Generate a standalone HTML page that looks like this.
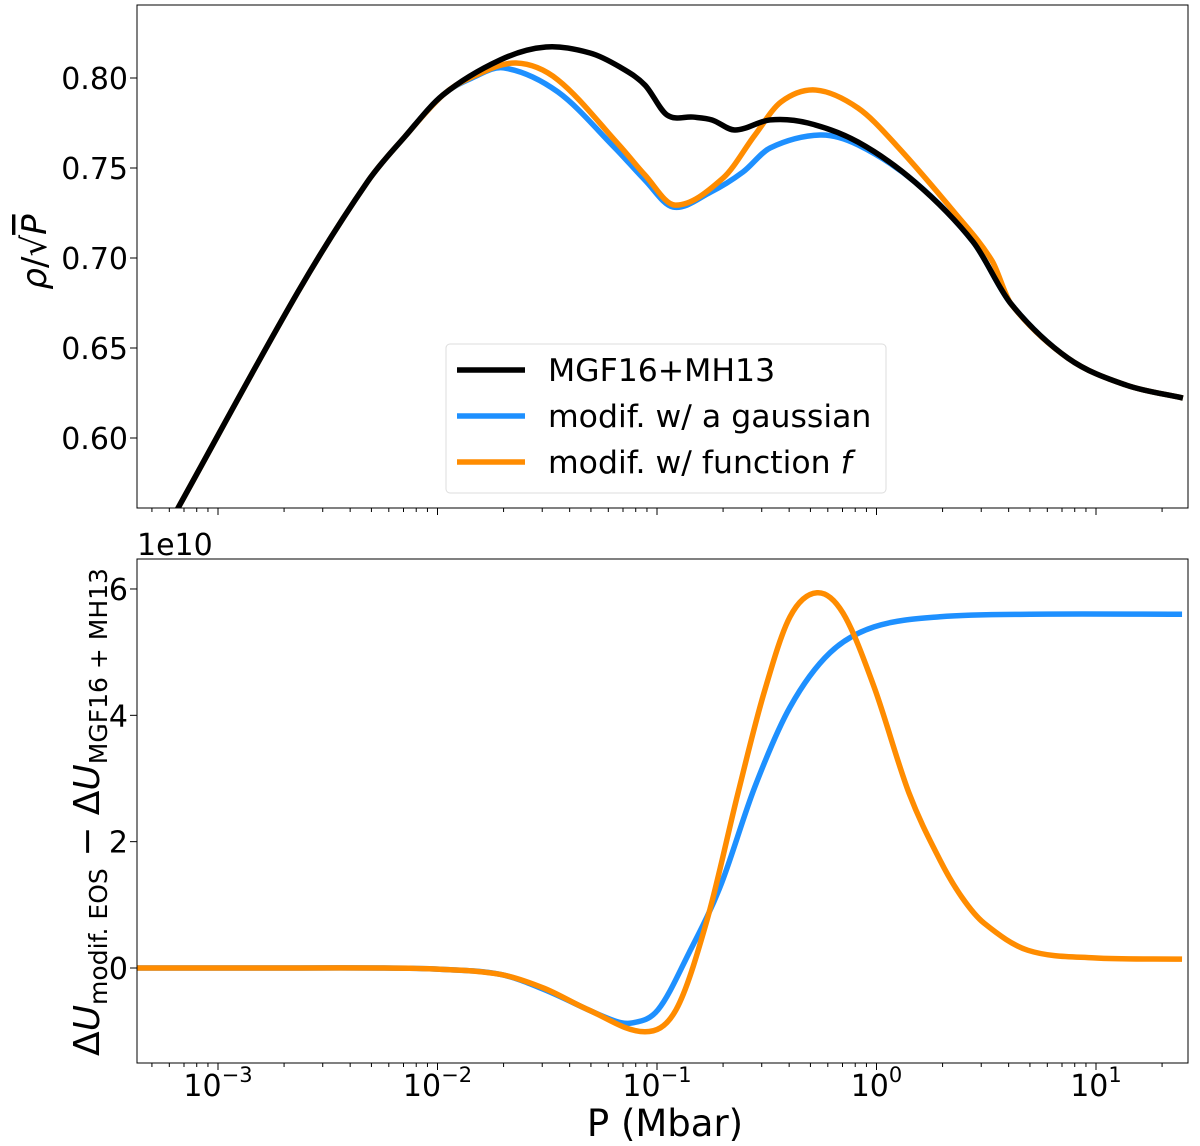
<!DOCTYPE html>
<html><head><meta charset="utf-8"><style>
body{margin:0;background:#fff}
svg{display:block;font-family:"DejaVu Sans","Liberation Sans",sans-serif}
</style></head><body>
<svg id="c" width="1200" height="1146" viewBox="0 0 1200 1146"></svg>
<script>
// x positions are log10(P / Mbar)
const topBlackX=[-3.369,-3.187,-2.636,-2.321,-2.148,-1.975,-1.715,-1.506,-1.305,-1.169,-1.055,-0.954,-0.836,-0.749,-0.645,-0.485,-0.312,-0.084,0.175,0.44,0.613,0.872,1.137,1.396];
const topBlackY=[0.52,0.56,0.6811,0.742,0.7675,0.7906,0.81,0.8172,0.8139,0.8061,0.7961,0.7794,0.7783,0.7767,0.7711,0.7767,0.775,0.7644,0.7422,0.709,0.6745,0.6444,0.6294,0.6222];
const topBlueX=[-3.369,-3.187,-2.636,-2.321,-2.148,-1.975,-1.843,-1.697,-1.451,-1.191,-1.055,-0.927,-0.754,-0.608,-0.485,-0.257,-0.084,0.175,0.44,0.613,0.872,1.137,1.396];
const topBlueY=[0.52,0.56,0.6811,0.742,0.7675,0.7906,0.80,0.8056,0.7922,0.7611,0.7433,0.7283,0.7367,0.7478,0.7611,0.7683,0.7628,0.7422,0.709,0.6745,0.6444,0.6294,0.6222];
const topOrangeX=[-3.369,-3.187,-2.636,-2.321,-2.148,-1.975,-1.843,-1.642,-1.451,-1.173,-1.055,-0.918,-0.699,-0.554,-0.435,-0.276,-0.084,0.089,0.353,0.526,0.613,0.872,1.137,1.396];
const topOrangeY=[0.52,0.56,0.6811,0.742,0.7675,0.7906,0.8006,0.8083,0.7989,0.7628,0.7461,0.7294,0.7444,0.7683,0.7867,0.7933,0.7833,0.7628,0.7256,0.6985,0.6745,0.6444,0.6294,0.6222];
const botBlueX=[-3.369,-2.8,-2.262,-1.989,-1.715,-1.515,-1.214,-1.114,-0.995,-0.854,-0.713,-0.554,-0.394,-0.212,-0.011,0.289,0.7,1.392];
const botBlueY=[0,0,0,-0.02,-0.1,-0.34,-0.81,-0.87,-0.66,0.24,1.28,2.87,4.13,4.99,5.40,5.56,5.60,5.60];
const botOrangeX=[-3.369,-2.8,-2.262,-1.989,-1.715,-1.515,-1.314,-1.055,-0.913,-0.772,-0.631,-0.513,-0.394,-0.271,-0.153,-0.011,0.148,0.289,0.389,0.49,0.69,0.991,1.392];
const botOrangeY=[0,0,0,-0.02,-0.1,-0.32,-0.66,-1.01,-0.66,0.76,2.77,4.35,5.56,5.94,5.62,4.45,2.77,1.71,1.12,0.71,0.28,0.16,0.14];
const xTickVals=[-3,-2,-1,0,1];
const yTopTicks=[0.60,0.65,0.70,0.75,0.80];
const yBotTicks=[0,2,4,6];

const NS="http://www.w3.org/2000/svg";
const svg=document.getElementById('c');
const L=137,R=1188;
const T1=5,B1=508,T2=559,B2=1063;
const xs=v=>218+(v+3)*219.5;
const ys1=v=>78-(v-0.80)*1800;
const ys2=v=>968-v*63.17;
function el(tag,attrs,parent){const e=document.createElementNS(NS,tag);for(const k in attrs)e.setAttribute(k,attrs[k]);(parent||svg).appendChild(e);return e;}
function smooth(pts){let d=`M${pts[0][0]},${pts[0][1]}`;for(let i=0;i<pts.length-1;i++){const p0=pts[Math.max(0,i-1)],p1=pts[i],p2=pts[i+1],p3=pts[Math.min(pts.length-1,i+2)];
  const h=p2[0]-p1[0];
  const s1=(p2[1]-p0[1])/((p2[0]-p0[0])||1), s2=(p3[1]-p1[1])/((p3[0]-p1[0])||1);
  const c1=[p1[0]+h/3,p1[1]+s1*h/3],c2=[p2[0]-h/3,p2[1]-s2*h/3];
  d+=`C${c1[0]},${c1[1]} ${c2[0]},${c2[1]} ${p2[0]},${p2[1]}`;}return d;}
const cp1=el('clipPath',{id:'cp1'});el('rect',{x:L,y:T1,width:R-L,height:B1-T1},cp1);
const cp2=el('clipPath',{id:'cp2'});el('rect',{x:L,y:T2,width:R-L,height:B2-T2},cp2);

function series(xa,ya,ysf,color,clip,name){
  const pts=xa.map((x,i)=>[xs(x),ysf(ya[i])]);
  const p=el('path',{d:smooth(pts),fill:'none',stroke:color,'stroke-width':5.5,'stroke-linejoin':'round','clip-path':`url(#${clip})`});
  
  
}
series(topBlueX,topBlueY,ys1,'#1e90ff','cp1','top-line-gaussian');
series(topOrangeX,topOrangeY,ys1,'#ff8c00','cp1','top-line-function-f');
series(topBlackX,topBlackY,ys1,'#000','cp1','top-line-mgf16-mh13');
series(botBlueX,botBlueY,ys2,'#1e90ff','cp2','bottom-line-gaussian');
series(botOrangeX,botOrangeY,ys2,'#ff8c00','cp2','bottom-line-function-f');

const f1=el('rect',{x:L,y:T1,width:R-L,height:B1-T1,fill:'none',stroke:'#000','stroke-width':1});


const f2=el('rect',{x:L,y:T2,width:R-L,height:B2-T2,fill:'none',stroke:'#000','stroke-width':1});



[[B1,false],[B2,true]].forEach(([by,lab])=>{
  for(let d=-4;d<=1;d++){for(let m=1;m<10;m++){const v=d+Math.log10(m);const x=xs(v);if(x<L||x>R)continue;
    el('line',{x1:x,y1:by,x2:x,y2:by+(m===1?7:4),stroke:'#000','stroke-width':1});}}
  if(lab) xTickVals.forEach(v=>{const t=el('text',{x:xs(v),y:1096,'font-size':30,'text-anchor':'middle'});
    
    
    t.innerHTML=`10<tspan dy="-14" font-size="21">${v<0?'−'+(-v):v}</tspan>`;});
});
yTopTicks.forEach(v=>{const y=ys1(v);el('line',{x1:L-7,y1:y,x2:L,y2:y,stroke:'#000'});
  const t=el('text',{x:L-9,y:y+11,'font-size':30,'text-anchor':'end'});t.textContent=v.toFixed(2);
  
  });
yBotTicks.forEach(v=>{const y=ys2(v);el('line',{x1:L-7,y1:y,x2:L,y2:y,stroke:'#000'});
  const t=el('text',{x:L-9,y:y+11,'font-size':30,'text-anchor':'end'});t.textContent=v;
  
  });
</script>
<svg style="position:absolute;left:0;top:0" width="1200" height="1146">
<g font-family="DejaVu Sans, Liberation Sans, sans-serif">
<text x="137" y="555" font-size="30">1e10</text>
<text x="665" y="1136" font-size="37" text-anchor="middle">P (Mbar)</text>
<text transform="translate(46,252) rotate(-90)" font-size="34" text-anchor="middle"><tspan font-style="italic">ρ</tspan>/√<tspan font-style="italic" text-decoration="overline">P</tspan></text>
<text transform="translate(99,812) rotate(-90)" font-size="36" text-anchor="middle">Δ<tspan font-style="italic">U</tspan><tspan font-size="25" dy="8">modif. EOS</tspan><tspan dy="-8"> − Δ</tspan><tspan font-style="italic">U</tspan><tspan font-size="25" dy="8">MGF16 + MH13</tspan></text>
<g>
<rect x="446" y="344" width="440" height="149" rx="4" fill="#fff" fill-opacity="0.85" stroke="#ddd"/>
<line x1="457" y1="370" x2="525" y2="370" stroke="#000" stroke-width="5.5"/>
<text x="548" y="381" font-size="31.5">MGF16+MH13</text>
<line x1="457" y1="416" x2="525" y2="416" stroke="#1e90ff" stroke-width="5.5"/>
<text x="548" y="427" font-size="31.5">modif. w/ a gaussian</text>
<line x1="457" y1="462" x2="525" y2="462" stroke="#ff8c00" stroke-width="5.5"/>
<text x="548" y="473" font-size="31.5">modif. w/ function <tspan font-style="italic">f</tspan></text>
</g>
</g></svg>
</body></html>
